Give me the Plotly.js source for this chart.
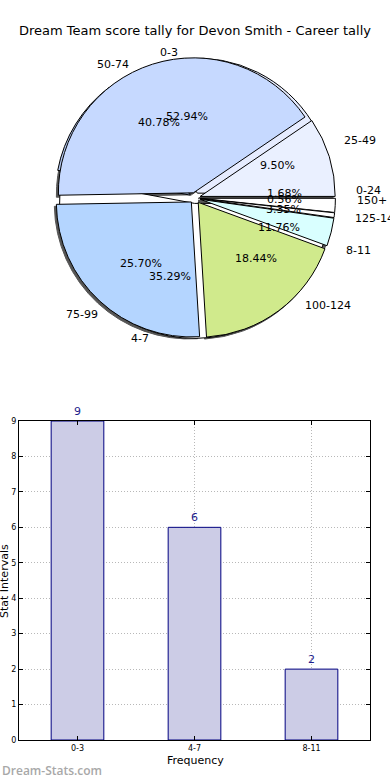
<!DOCTYPE html>
<html>
<head>
<meta charset="utf-8">
<script src="https://cdn.plot.ly/plotly-3.0.1.min.js"></script>
<style>html,body{margin:0;padding:0;background:#fff;}#chart{width:390px;height:780px;}</style>
</head>
<body>
<div id="chart"></div>
<script>
// ---- data ----
var scoreLabels = ['0-24', '25-49', '50-74', '75-99', '100-124', '125-149', '150+'];
var scoreCounts = [3, 17, 73, 46, 33, 6, 1];
var freqLabels = ['0-3', '4-7', '8-11'];
var freqCounts = [9, 6, 2];
var chartTitle = 'Dream Team score tally for Devon Smith - Career tally';

// ---- styling ----
var scoreColors = ['#ffffff', '#eaf0ff', '#c6d9ff', '#b4d5ff', '#d0ea8c', '#d9ffff', '#ffffff'];
var freqColors = ['#ffffff', '#e6ecff', '#b4c8f0'];
var W = 390, H = 780;
var cx = 195, cy = 198, rx = 140, ry = 128, explode = 0.04, r = 135;

function pulls(n) { var a = []; for (var i = 0; i < n; i++) a.push(explode); return a; }
function dom(dx, dy) {
  var h = r * (1 + explode);
  return {x: [(cx + dx - h) / W, (cx + dx + h) / W], y: [1 - (cy + dy + h) / H, 1 - (cy + dy - h) / H]};
}
function pieTrace(labels, values, colors, d, lineColor) {
  return {
    type: 'pie', labels: labels, values: values, sort: false,
    direction: 'counterclockwise', rotation: 90,
    pull: pulls(values.length), textinfo: 'none', hoverinfo: 'skip',
    marker: {colors: colors, line: {color: lineColor, width: 1}},
    domain: d, showlegend: false
  };
}

var shadowColors = scoreCounts.map(function () { return '#555555'; });
var traces = [
  pieTrace(scoreLabels, scoreCounts, shadowColors, dom(-2, 2), '#555555'),
  pieTrace(freqLabels, freqCounts, freqColors, dom(0, 0), '#000000'),
  pieTrace(scoreLabels, scoreCounts, scoreColors, dom(0, 0), '#000000'),
  {
    type: 'bar', x: freqLabels, y: freqCounts, width: 0.45,
    marker: {color: '#ccccE6', line: {color: '#000080', width: 1}},
    text: freqCounts.map(String), textposition: 'outside', cliponaxis: false,
    textfont: {color: '#1c1c8c', size: 11, family: 'DejaVu Sans'},
    hoverinfo: 'skip', xaxis: 'x', yaxis: 'y', showlegend: false
  }
];

// text annotations for pies (matplotlib-like placement)
var annotations = [];
function addPieText(labels, values) {
  var total = values.reduce(function (a, b) { return a + b; }, 0);
  var cum = 0;
  for (var i = 0; i < values.length; i++) {
    var t1 = 360 * cum / total;
    cum += values[i];
    var t2 = 360 * cum / total;
    var tm = (t1 + t2) / 2 * Math.PI / 180;
    var c = Math.cos(tm), s = Math.sin(tm);
    var lx = cx + (explode + 1.1) * rx * c, ly = cy - (explode + 1.1) * ry * s;
    annotations.push({x: lx / W, y: 1 - ly / H, xref: 'paper', yref: 'paper', text: labels[i], showarrow: false,
      xanchor: c > 0 ? 'left' : 'right', yanchor: 'middle', font: {size: 11, color: '#000'}});
    var px = cx + (explode + 0.6) * rx * c, py = cy - (explode + 0.6) * ry * s;
    annotations.push({x: px / W, y: 1 - py / H, xref: 'paper', yref: 'paper',
      text: (100 * values[i] / total).toFixed(2) + '%', showarrow: false,
      xanchor: 'center', yanchor: 'middle', font: {size: 11, color: '#000'}});
  }
}
addPieText(scoreLabels, scoreCounts);
addPieText(freqLabels, freqCounts);

annotations.push({x: 4 / W, y: 1 - 581 / H, xref: 'paper', yref: 'paper', text: 'Stat Intervals', textangle: -90,
  showarrow: false, xanchor: 'center', yanchor: 'middle', font: {size: 11, color: '#000'}});
annotations.push({x: 195 / W, y: 1 - 760 / H, xref: 'paper', yref: 'paper', text: 'Frequency',
  showarrow: false, xanchor: 'center', yanchor: 'middle', font: {size: 11, color: '#000'}});
annotations.push({x: 0, y: 1 - 770 / H, xref: 'paper', yref: 'paper', text: 'Dream-Stats.com',
  showarrow: false, xanchor: 'left', yanchor: 'middle', font: {size: 12, color: '#a8a8a8', family: 'Open Sans', weight: 600}});

var gridStyle = {showgrid: true, gridcolor: '#b8b8b8', griddash: '1px,2px', gridwidth: 1};
var layout = {
  width: W, height: H, margin: {l: 0, r: 0, t: 0, b: 0},
  paper_bgcolor: '#fff', plot_bgcolor: '#fff',
  font: {family: 'DejaVu Sans', color: '#000'},
  showlegend: false,
  title: {text: chartTitle, x: 0.5, xanchor: 'center', y: 1 - 30 / H, yanchor: 'middle', yref: 'container',
    font: {size: 13, color: '#000', family: 'DejaVu Sans'}},
  xaxis: Object.assign({domain: [19 / W, 370 / W], anchor: 'y', type: 'category', range: [-0.5, 2.5],
    showline: true, linecolor: '#000', linewidth: 1, mirror: 'allticks',
    ticks: 'inside', ticklen: 4, tickcolor: '#000',
    tickfont: {size: 8, color: '#000'}, fixedrange: true, zeroline: false}, gridStyle),
  yaxis: Object.assign({domain: [40 / H, 359 / H], anchor: 'x', range: [0, 9], dtick: 1,
    showline: true, linecolor: '#000', linewidth: 1, mirror: 'allticks',
    ticks: 'inside', ticklen: 4, tickcolor: '#000',
    tickfont: {size: 8, color: '#000'}, fixedrange: true, zeroline: false}, gridStyle),
  annotations: annotations
};

Plotly.newPlot('chart', traces, layout, {staticPlot: true, displayModeBar: false});
</script>
</body>
</html>
